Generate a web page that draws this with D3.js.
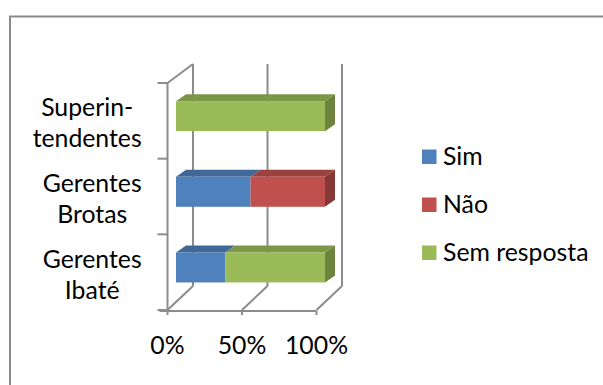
<!DOCTYPE html>
<html>
<head>
<meta charset="utf-8">
<script src="https://cdn.jsdelivr.net/npm/d3@7"></script>
<style>
  html, body { margin: 0; padding: 0; background: #fff; }
  svg { display: block; }
  text { font-family: Lato, "Open Sans", sans-serif; fill: #000; }
</style>
</head>
<body>
<svg id="chart" width="603" height="385"></svg>
<script>
// ---- data ----
const categories = [["Superin-", "tendentes"], ["Gerentes", "Brotas"], ["Gerentes", "Ibaté"]];
const seriesNames = ["Sim", "Não", "Sem resposta"];
const simValues = [0, 0.50, 0.33];
const naoValues = [0, 0.50, 0];
const semRespostaValues = [1.00, 0, 0.67];
const tickLabels = ["0%", "50%", "100%"];
const tickValues = [0, 0.5, 1];
const colors = ["#4F81BD", "#C0504D", "#9BBB59"];

const svg = d3.select("#chart");
const fontSize = 24.8;

// chart border (top and left visible)
svg.append("path").attr("d", "M10,385 L10,16.5 L603,16.5")
  .attr("fill", "none").attr("stroke", "#8a8a8a").attr("stroke-width", 2);

// geometry of the 3D plot
const frontLeft = 167.5, frontRight = 316.5;
const frontTop = 83, frontBottom = 310;
const depthX = 25.5, depthYBottom = -24, depthYTop = -19;
const gridColor = "#8c8c8c";

const xFront = d3.scaleLinear().domain([0, 1]).range([frontLeft, frontRight]);
const yBand = d3.scaleBand().domain(d3.range(categories.length)).range([frontTop, frontBottom]);

const grid = svg.append("g").attr("fill", "none").attr("stroke", gridColor).attr("stroke-width", 2);
tickValues.forEach(v => {
  const fx = xFront(v);
  const bx = fx + depthX;
  grid.append("line").attr("x1", bx).attr("y1", frontTop + depthYTop).attr("x2", bx).attr("y2", frontBottom + depthYBottom);
  grid.append("line").attr("x1", bx).attr("y1", frontBottom + depthYBottom).attr("x2", fx).attr("y2", frontBottom);
});
grid.append("line").attr("x1", frontLeft).attr("y1", frontTop).attr("x2", frontLeft).attr("y2", frontBottom + 1);
grid.append("line").attr("x1", frontLeft).attr("y1", frontTop).attr("x2", frontLeft + depthX).attr("y2", frontTop + depthYTop);
const boundaries = d3.range(categories.length + 1).map(i => frontTop + i * yBand.step());
boundaries.forEach(y => {
  grid.append("line").attr("x1", frontLeft - 10).attr("y1", y).attr("x2", frontLeft).attr("y2", y);
});
grid.append("line").attr("x1", frontLeft - 8).attr("y1", frontBottom + 1).attr("x2", frontRight).attr("y2", frontBottom + 1);
tickValues.forEach(v => {
  grid.append("line").attr("x1", xFront(v)).attr("y1", frontBottom + 1).attr("x2", xFront(v)).attr("y2", frontBottom + 5);
});

// tick labels
svg.append("g").selectAll("text").data(tickValues).join("text")
  .attr("x", d => xFront(d)).attr("y", 354)
  .attr("text-anchor", "middle").attr("font-size", fontSize)
  .text((d, i) => tickLabels[i]);

// bars
const barOffX = 8.5, barOffY = -4.7;
const barDX = 10, barDY = -7;
const barH = 30;
const xBar = d3.scaleLinear().domain([0, 1]).range([frontLeft + barOffX, frontRight + barOffX]);
const seriesValues = [simValues, naoValues, semRespostaValues];

const bars = svg.append("g");
categories.forEach((c, ci) => {
  const cy = yBand(ci) + yBand.bandwidth() / 2 + barOffY;
  const y0 = cy - barH / 2;
  let acc = 0;
  const segs = [];
  seriesValues.forEach((vals, si) => {
    const v = vals[ci];
    if (v > 0) { segs.push({ s: si, a: acc, b: acc + v }); acc += v; }
  });
  segs.forEach((sg, k) => {
    const xa = xBar(sg.a), xb = xBar(sg.b);
    const base = d3.color(colors[sg.s]);
    bars.append("path")
      .attr("d", `M${xa},${y0} L${xa + barDX},${y0 + barDY} L${xb + barDX},${y0 + barDY} L${xb},${y0} Z`)
      .attr("fill", base.darker(0.6));
    bars.append("rect").attr("x", xa).attr("y", y0).attr("width", xb - xa).attr("height", barH)
      .attr("fill", colors[sg.s]);
    if (k === segs.length - 1) {
      bars.append("path")
        .attr("d", `M${xb},${y0} L${xb + barDX},${y0 + barDY} L${xb + barDX},${y0 + barDY + barH} L${xb},${y0 + barH} Z`)
        .attr("fill", base.darker(1.0));
    }
  });
});

// category labels (block right-aligned, lines centered)
const labelRight = 141.7;
const lineGap = 31;
categories.forEach((lines, ci) => {
  const cy = yBand(ci) + yBand.bandwidth() / 2;
  const g = svg.append("g");
  const texts = lines.map((ln, li) => g.append("text")
    .attr("font-size", fontSize)
    .attr("text-anchor", "middle")
    .attr("y", cy + 11 + (li - (lines.length - 1) / 2) * lineGap)
    .text(ln));
  const maxW = d3.max(texts, t => t.node().getComputedTextLength());
  texts.forEach(t => t.attr("x", labelRight - maxW / 2));
});

// legend
const legend = svg.append("g");
seriesNames.forEach((name, i) => {
  const y = 149.5 + i * 48;
  legend.append("rect").attr("x", 422).attr("y", y).attr("width", 14.5).attr("height", 14.5).attr("fill", colors[i]);
  legend.append("text").attr("x", 443).attr("y", y + 15).attr("font-size", fontSize).text(name);
});
</script>
</body>
</html>
